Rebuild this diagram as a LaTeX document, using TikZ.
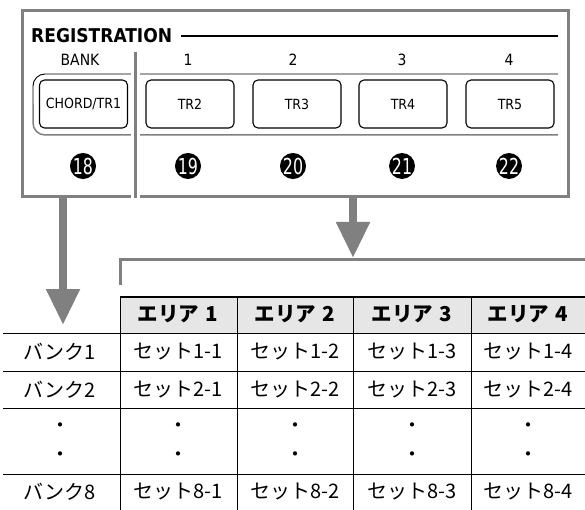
\documentclass[tikz,border=0pt]{standalone}
\usepackage{fontspec}
\setmainfont{Noto Sans CJK JP}
\newfontfamily\dinfont{DejaVu Sans Condensed}
\newfontfamily\badgefont[FakeStretch=0.8]{DejaVu Sans Condensed}
\usetikzlibrary{arrows.meta, positioning, calc}

\definecolor{panelgray}{HTML}{808080}
\definecolor{headgray}{HTML}{E6E6E6}

\begin{document}
\begin{tikzpicture}[
    x=1pt, y=-1pt,
    button/.style={rectangle, draw, rounded corners=5pt, line width=1.1pt, minimum width=88pt, minimum height=48pt, font=\dinfont\fontsize{14}{16}\selectfont},
    keylabel/.style={font=\dinfont\fontsize{15.5}{18}\selectfont},
    badge/.style={circle, fill=black, text=white, inner sep=0pt, minimum size=24pt, font=\badgefont\fontsize{22}{22}\selectfont},
    grayarrow/.style={draw=panelgray, line width=8pt, -{Triangle[width=32pt, length=36pt]}, fill=panelgray},
    cell/.style={font=\fontsize{20}{24}\selectfont},
    headcell/.style={font=\bfseries\fontsize{20.5}{24}\selectfont},
    rule/.style={line width=0.9pt}
  ]
  \useasboundingbox (0,0) rectangle (585,510);

  % ---- panel ----
  \node[draw=panelgray, line width=3pt, minimum width=546pt, minimum height=186pt, inner sep=0pt, anchor=north west] (panel) at (21,9) {};
  \node[anchor=west, inner sep=0pt, font=\dinfont\bfseries\fontsize{19}{22}\selectfont] (title) at (31,36) {REGISTRATION};
  \coordinate (titleend) at (558,36);
  \draw[line width=1.2pt] ([xshift=9pt]title.east) -- (titleend);

  % frame round the buttons
  \draw[rule, rounded corners=12pt] (558,74) -- (33,74) -- (33,104);
  \draw[panelgray, line width=1.5pt, rounded corners=12pt] (33,104) -- (33,135) -- (558,135);

  % divider
  \coordinate (divtop) at (135,52);
  \draw[white, line width=9pt] (divtop) -- (panel.south -| divtop);
  \draw[panelgray, line width=3pt] (divtop) -- (panel.south -| divtop);

  % buttons
  \node[button] (bank) at (83.5,104) {CHORD/TR1};
  \foreach \i/\x in {2/190, 3/297, 4/403, 5/510}
    \node[button] (tr\i) at (\x,104) {TR\i};

  \node[keylabel] (banklbl) at (80,60) {BANK};
  \foreach \n/\x in {1/188, 2/293, 3/402, 4/509}
    \node[keylabel] (num\n) at (\x,60) {\n};

  \foreach \n/\x in {18/83, 19/188, 20/293, 21/402, 22/509}
    \node[badge] (badge\n) at (\x,166) {\n};

  % ---- arrows ----
  \coordinate (banktip) at (63,325);
  \coordinate (areatip) at (353,258);
  \draw[grayarrow] (panel.south -| banktip) -- (banktip);
  \draw[grayarrow] (panel.south -| areatip) -- (areatip);

  % bracket
  \coordinate (brright) at (585,259);
  \coordinate (brleft) at (120,259);
  \coordinate (brfoot) at (120,285);
  \draw[panelgray, line width=3pt] (brright) -- (brleft) -- (brfoot);

  % ---- table ----
  \fill[headgray] (120,298) rectangle (585,333);
  \draw[line width=2.5pt] (120,297) -- (585,297);
  \foreach \y in {333, 371, 408, 474}
    \draw[rule] (3,\y) -- (585,\y);
  \foreach \x in {120, 237, 353, 471}
    \draw[rule] (\x,297) -- (\x,510);

  \foreach \c/\x in {1/178, 2/295, 3/412, 4/528}
    \node[headcell] (area\c) at (\x,314) {エリア\hspace{0.3em}\c};

  \foreach \r/\y in {1/352, 2/390, 8/492} {
    \node[cell] (bank\r) at (60,\y) {バンク\r};
    \foreach \c/\x in {1/178, 2/295, 3/412, 4/528}
      \node[cell] (set\r\c) at (\x,\y) {セット\r-\c};
  }

  \foreach \x [count=\k] in {60, 178, 295, 412, 528} {
    \node[cell] (dota\k) at (\x,428) {・};
    \node[cell] (dotb\k) at (\x,457) {・};
  }
\end{tikzpicture}
\end{document}
